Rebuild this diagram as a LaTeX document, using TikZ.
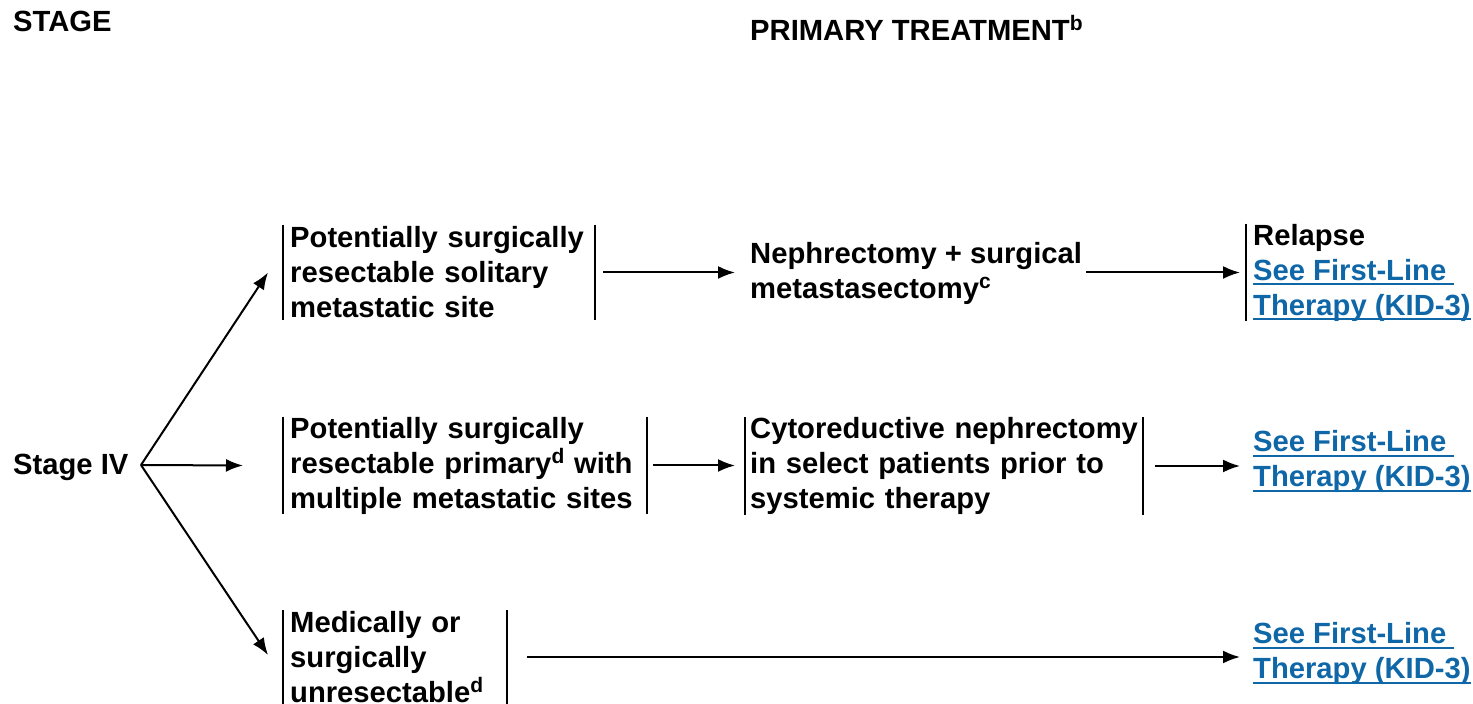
\documentclass[tikz,border=0pt]{standalone}
\usepackage{fontspec}
\setmainfont{Liberation Sans}
\usetikzlibrary{arrows.meta}
\definecolor{lnkblue}{HTML}{0F67A8}
\newcommand\lnk[1]{{\color{lnkblue}\setbox0\hbox{#1}\rlap{\rule[-5pt]{\wd0}{1.8pt}}\box0}}
\newcommand\sups[1]{\raisebox{10pt}{\fontsize{21}{21}\selectfont #1}}
\begin{document}
\begin{tikzpicture}[x=1pt,y=1pt,
  every node/.style={font=\fontsize{29.2}{35}\selectfont\bfseries, inner sep=0pt},
  lbl/.style={anchor=base west},
  txt/.style={anchor=west, align=left},
  boxed/.style={txt, text width=#1, minimum height=95pt},
  bar/.style={line width=2pt},
  arr/.style={line width=2pt, -{Latex[length=17pt,width=13pt]}}
]
\useasboundingbox (0,0) rectangle (1473,704);

\node[lbl] (stage) at (13,672) {STAGE};
\node[lbl] (primary) at (750,663) {PRIMARY TREATMENT\sups{b}};
\node[lbl] (siv) at (13,229) {Stage IV};
\coordinate (fork) at (141,239);

\node[boxed=305] (b1) at (290,431.5) {Potentially surgically\\resectable solitary\\metastatic site};
\node[txt] (neph) at (750,431) {Nephrectomy + surgical\\metastasectomy\sups{c}};
\node[txt, minimum height=95pt] (rel) at (1253,431.5) {Relapse\\\lnk{See First-Line\ }\\\lnk{Therapy (KID-3)}};

\node[boxed=357] (b2) at (290,238.5) {Potentially surgically\\resectable primary\sups{d} with\\multiple metastatic sites};
\node[boxed=393, minimum height=96pt] (cyto) at (750,238) {Cytoreductive nephrectomy\\in select patients prior to\\systemic therapy};
\node[txt] (l2) at (1253,242.5) {\lnk{See First-Line\ }\\\lnk{Therapy (KID-3)}};

\node[boxed=217, minimum height=94pt] (b4) at (290,47) {Medically or\\surgically\\unresectable\sups{d}};
\node[txt] (l3) at (1253,50.5) {\lnk{See First-Line\ }\\\lnk{Therapy (KID-3)}};

% bars
\draw[bar] ([xshift=-7pt]b1.north west) -- ([xshift=-7pt]b1.south west)
           (b1.north east) -- (b1.south east);
\draw[bar] ([xshift=-7pt]rel.north west) -- ([xshift=-7pt]rel.south west);
\draw[bar] ([xshift=-7pt]b2.north west) -- ([xshift=-7pt]b2.south west)
           (b2.north east) -- (b2.south east);
\draw[bar] ([xshift=-5pt]cyto.north west) -- ([xshift=-5pt]cyto.south west)
           (cyto.north east) -- (cyto.south east);
\draw[bar] ([xshift=-7pt]b4.north west) -- ([xshift=-7pt]b4.south west)
           (b4.north east) -- (b4.south east);

% arrows
\draw[arr] (fork) -- ([xshift=-22pt]b1.west);
\draw[arr] (fork) -- ([xshift=-47pt]b2.west);
\draw[arr] (fork) -- ([xshift=-22pt,yshift=2pt]b4.west);
\draw[arr] ([xshift=8pt]b1.east) -- ([xshift=-15pt]b1.east -| neph.west);
\draw[arr] ([xshift=4pt]neph.east |- b1.east) -- ([xshift=-13pt]b1.east -| rel.west);
\draw[arr] ([xshift=6pt]b2.east) -- ([xshift=-15pt]b2.east -| cyto.west);
\draw[arr] ([xshift=12pt]cyto.east) -- ([xshift=-13pt]cyto.east -| l2.west);
\draw[arr] ([xshift=20pt]b4.east) -- ([xshift=-13pt]b4.east -| l3.west);
\end{tikzpicture}
\end{document}
